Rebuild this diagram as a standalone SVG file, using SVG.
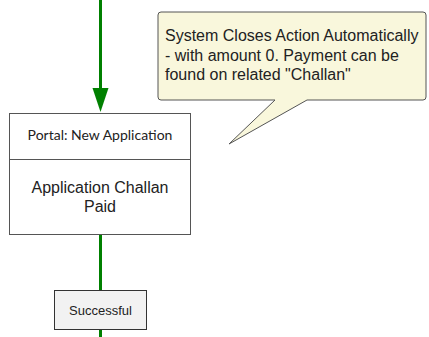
<svg xmlns="http://www.w3.org/2000/svg" width="429" height="337" viewBox="0 0 429 337">
<style>
.edge{stroke:#008000;stroke-width:3;fill:none}
.box{fill:#fff;stroke:#555;stroke-width:1}
.t{font-family:"Liberation Sans",Arial,sans-serif;fill:#222;text-anchor:middle}
</style>
<rect width="429" height="337" fill="#fff"/>
<g id="connectors">
<line class="edge" x1="100.5" y1="0" x2="100.5" y2="90"/>
<polygon points="92.5,88 108.5,88 100.5,112" fill="#008000"/>
<line class="edge" x1="100.5" y1="235" x2="100.5" y2="337"/>
</g>
<g id="note">
<path d="M161,12 H423 Q426,12 426,15 V97 Q426,100 423,100 H307 L229,144 L275,100 H161 Q158,100 158,97 V15 Q158,12 161,12 Z" fill="#f9f7dc" stroke="#555" stroke-width="1"/>
<text class="t" x="165" y="41" font-size="16" style="text-anchor:start">System Closes Action Automatically</text>
<text class="t" x="165" y="61" font-size="16" style="text-anchor:start">- with amount 0. Payment can be</text>
<text class="t" x="165" y="80" font-size="16" style="text-anchor:start">found on related "Challan"</text>
</g>
<g id="node-portal">
<rect class="box" x="9.5" y="113.5" width="181" height="121"/>
<line x1="9.5" y1="159.5" x2="190.5" y2="159.5" stroke="#555"/>
<text x="100" y="140" font-size="14" text-anchor="middle" fill="#222" font-family="Lato, 'Liberation Sans', sans-serif">Portal: New Application</text>
<text class="t" x="100" y="193" font-size="16">Application Challan</text>
<text class="t" x="100" y="212" font-size="16">Paid</text>
</g>
<g id="node-successful">
<rect x="54.5" y="290.5" width="92" height="39" fill="#f2f2f2" stroke="#333"/>
<text class="t" x="100.5" y="315" font-size="13">Successful</text>
</g>
</svg>
